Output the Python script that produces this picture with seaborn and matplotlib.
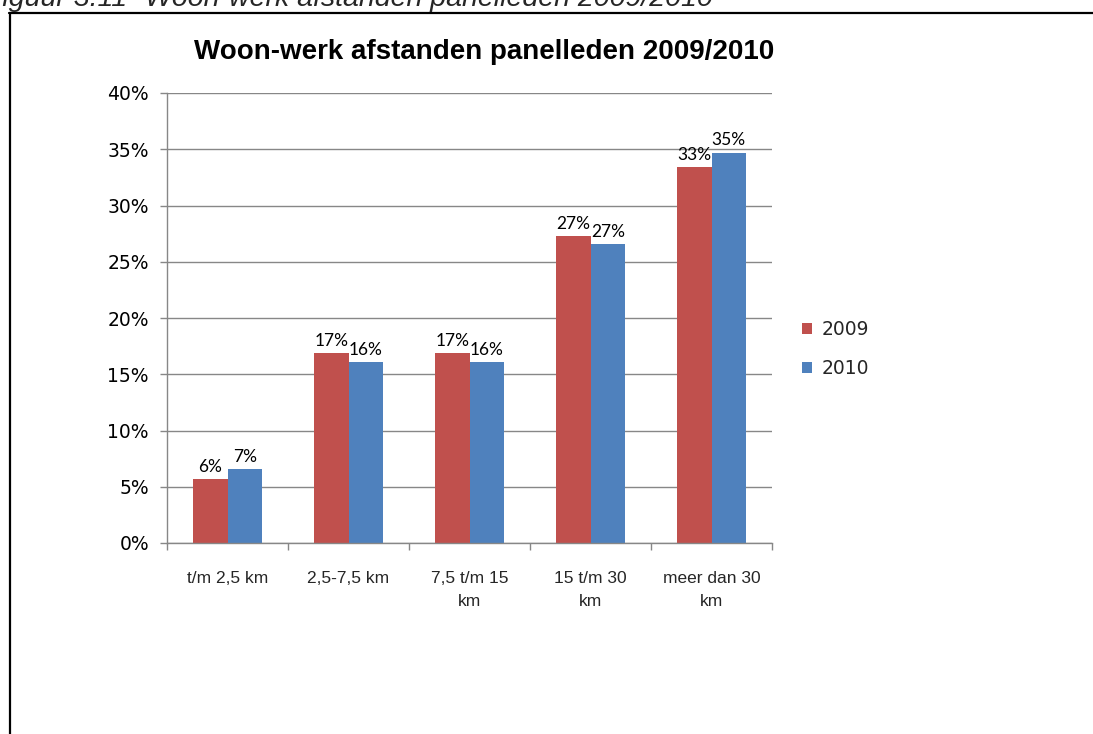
import matplotlib
matplotlib.use("Agg")
import matplotlib.pyplot as plt
from matplotlib.lines import Line2D
from matplotlib.patches import Patch
from matplotlib.ticker import FuncFormatter, FixedLocator
import seaborn as sns
import pandas as pd

# Home-work distance classes and share of panel members per year (%)
categories = ["t/m 2,5 km", "2,5-7,5 km", "7,5 t/m 15\nkm", "15 t/m 30\nkm", "meer dan 30\nkm"]
years = ["2009", "2010"]
share_2009 = [5.7, 16.9, 16.9, 27.3, 33.4]
share_2010 = [6.6, 16.1, 16.1, 26.6, 34.7]
y_ticks = [0, 5, 10, 15, 20, 25, 30, 35, 40]

colors = {"2009": "#C0504D", "2010": "#4F81BD"}

df = pd.DataFrame({
    "afstand": categories * 2,
    "jaar": [years[0]] * len(categories) + [years[1]] * len(categories),
    "aandeel": share_2009 + share_2010,
})

sns.set_theme(style="white")
plt.rcParams["font.family"] = ["DejaVu Sans"]

W, H = 1093, 734
fig = plt.figure(figsize=(W / 100, H / 100), dpi=100)
ax = fig.add_axes([167 / W, 1 - 543 / H, (772 - 167) / W, (543 - 93) / H])

sns.barplot(data=df, x="afstand", y="aandeel", hue="jaar", order=categories,
            hue_order=years, palette=colors, width=2 / 3.5, gap=0,
            saturation=1, linewidth=0, ax=ax, legend=False, errorbar=None)

ax.set_xlim(-0.5, len(categories) - 0.5)
ax.set_ylim(0, 40)
ax.yaxis.set_major_locator(FixedLocator(y_ticks))
ax.yaxis.set_major_formatter(FuncFormatter(lambda v, _: f"{v:.0f}%"))
ax.grid(axis="y", color="#878787", linewidth=1.0)
ax.set_axisbelow(True)
ax.set_xlabel("")
ax.set_ylabel("")

for side in ["top", "right"]:
    ax.spines[side].set_visible(False)
for side in ["left", "bottom"]:
    ax.spines[side].set_color("#878787")
    ax.spines[side].set_linewidth(1.0)

# category labels centred, tick marks on the category boundaries
ax.set_xticks(range(len(categories)))
ax.set_xticklabels(categories, fontfamily="Liberation Sans", fontsize=12.5,
                   linespacing=1.7)
ax.set_xticks([i - 0.5 for i in range(len(categories) + 1)], minor=True)
ax.tick_params(axis="x", which="major", length=0, pad=20)
ax.tick_params(axis="x", which="minor", length=5, width=1, color="#878787",
               direction="out", bottom=True)
ax.tick_params(axis="y", length=5, width=1, color="#878787", direction="out",
               left=True, labelsize=13.5, pad=8, labelcolor="black")
for lbl in ax.get_xticklabels():
    lbl.set_va("top")

# value labels on top of the bars
for container in ax.containers:
    ax.bar_label(container, labels=[f"{v:.0f}%" for v in container.datavalues],
                 padding=3, fontfamily="Lato", fontsize=12.5, color="black")

ax.set_title("")
fig.text(484 / W, 1 - 52 / H, "Woon-werk afstanden panelleden 2009/2010",
         ha="center", va="center", fontsize=20, fontweight="bold",
         fontfamily="Liberation Sans", color="black")

handles = [Patch(facecolor=colors[y], edgecolor="none", label=y) for y in years]
fig.legend(handles=handles, loc="center left",
           bbox_to_anchor=(802 / W, 1 - 349 / H), frameon=False,
           fontsize=13.5, handlelength=0.55, handleheight=0.55,
           handletextpad=0.5, labelspacing=1.05, borderpad=0, borderaxespad=0)

# document frame and caption line above the chart
fig.add_artist(Line2D([9 / W, 1], [1 - 12.5 / H, 1 - 12.5 / H], color="black",
                      linewidth=1.6, transform=fig.transFigure))
fig.add_artist(Line2D([9.5 / W, 9.5 / W], [0, 1 - 12.5 / H], color="black",
                      linewidth=1.6, transform=fig.transFigure))
fig.text(-15 / W, 1 - 6 / H, "Figuur 3.11", ha="left", va="baseline",
         fontsize=20.5, fontstyle="italic", fontfamily="Liberation Sans")
fig.text(145 / W, 1 - 6 / H, "Woon-werk afstanden panelleden 2009/2010",
         ha="left", va="baseline", fontsize=20.5, fontstyle="italic",
         fontfamily="Liberation Sans")

fig.savefig("out.png", dpi=100)
